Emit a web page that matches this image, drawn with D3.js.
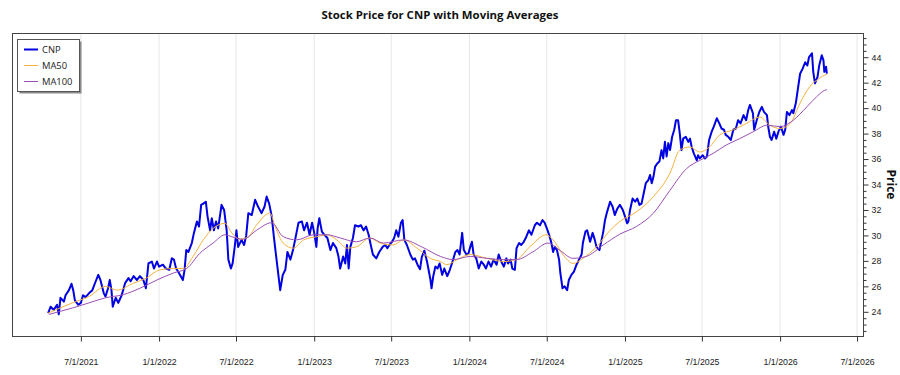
<!DOCTYPE html>
<html><head><meta charset="utf-8">
<script src="https://cdn.jsdelivr.net/npm/d3@7"></script>
<style>
html,body{margin:0;padding:0;background:#fff;}
svg{display:block;font-family:"Open Sans","Noto Sans",sans-serif;}
</style></head>
<body><svg id="c" width="900" height="375"></svg>
<script>
const priceDates = ["2021-04-15","2021-04-21","2021-04-28","2021-05-06","2021-05-10","2021-05-14","2021-05-22","2021-05-26","2021-06-03","2021-06-09","2021-06-13","2021-06-17","2021-06-25","2021-07-01","2021-07-06","2021-07-12","2021-07-20","2021-07-28","2021-08-05","2021-08-11","2021-08-16","2021-08-24","2021-08-28","2021-09-03","2021-09-07","2021-09-11","2021-09-14","2021-09-21","2021-09-27","2021-10-05","2021-10-13","2021-10-21","2021-10-26","2021-11-02","2021-11-10","2021-11-17","2021-11-25","2021-12-01","2021-12-07","2021-12-15","2021-12-20","2021-12-27","2022-01-01","2022-01-10","2022-01-17","2022-01-25","2022-01-31","2022-02-05","2022-02-10","2022-02-15","2022-02-21","2022-02-26","2022-03-02","2022-03-06","2022-03-11","2022-03-19","2022-03-24","2022-03-31","2022-04-05","2022-04-10","2022-04-15","2022-04-21","2022-04-25","2022-05-01","2022-05-05","2022-05-10","2022-05-15","2022-05-20","2022-05-28","2022-06-03","2022-06-09","2022-06-13","2022-06-19","2022-06-23","2022-06-29","2022-07-02","2022-07-06","2022-07-14","2022-07-20","2022-07-25","2022-07-30","2022-08-07","2022-08-15","2022-08-22","2022-08-30","2022-09-06","2022-09-11","2022-09-17","2022-09-23","2022-09-28","2022-10-04","2022-10-09","2022-10-13","2022-10-19","2022-10-25","2022-10-30","2022-11-06","2022-11-12","2022-11-17","2022-11-25","2022-12-03","2022-12-08","2022-12-15","2022-12-21","2022-12-27","2023-01-01","2023-01-06","2023-01-09","2023-01-13","2023-01-19","2023-01-25","2023-02-01","2023-02-08","2023-02-14","2023-02-22","2023-02-27","2023-03-03","2023-03-10","2023-03-15","2023-03-19","2023-03-23","2023-03-27","2023-04-02","2023-04-07","2023-04-15","2023-04-21","2023-04-27","2023-05-03","2023-05-09","2023-05-14","2023-05-19","2023-05-27","2023-06-03","2023-06-11","2023-06-17","2023-06-22","2023-06-27","2023-07-03","2023-07-08","2023-07-13","2023-07-18","2023-07-24","2023-07-28","2023-08-01","2023-08-07","2023-08-15","2023-08-21","2023-08-26","2023-09-01","2023-09-07","2023-09-11","2023-09-17","2023-09-23","2023-09-27","2023-10-01","2023-10-04","2023-10-08","2023-10-13","2023-10-18","2023-10-23","2023-10-29","2023-11-03","2023-11-10","2023-11-16","2023-11-21","2023-11-29","2023-12-04","2023-12-09","2023-12-15","2023-12-19","2023-12-25","2023-12-30","2024-01-03","2024-01-07","2024-01-11","2024-01-17","2024-01-23","2024-01-29","2024-02-04","2024-02-09","2024-02-15","2024-02-21","2024-02-27","2024-03-05","2024-03-10","2024-03-16","2024-03-22","2024-03-28","2024-04-01","2024-04-07","2024-04-11","2024-04-17","2024-04-21","2024-04-27","2024-05-02","2024-05-08","2024-05-14","2024-05-20","2024-05-26","2024-06-03","2024-06-08","2024-06-15","2024-06-21","2024-06-26","2024-07-03","2024-07-08","2024-07-12","2024-07-16","2024-07-20","2024-07-25","2024-07-30","2024-08-02","2024-08-07","2024-08-12","2024-08-18","2024-08-22","2024-08-28","2024-09-03","2024-09-09","2024-09-15","2024-09-21","2024-09-24","2024-09-30","2024-10-04","2024-10-11","2024-10-17","2024-10-22","2024-10-26","2024-11-02","2024-11-07","2024-11-11","2024-11-15","2024-11-20","2024-11-27","2024-12-03","2024-12-08","2024-12-14","2024-12-20","2024-12-27","2025-01-01","2025-01-06","2025-01-09","2025-01-13","2025-01-19","2025-01-25","2025-01-30","2025-02-04","2025-02-09","2025-02-15","2025-02-19","2025-02-25","2025-03-01","2025-03-05","2025-03-09","2025-03-13","2025-03-18","2025-03-23","2025-03-28","2025-04-01","2025-04-05","2025-04-09","2025-04-13","2025-04-17","2025-04-22","2025-04-27","2025-05-01","2025-05-06","2025-05-10","2025-05-14","2025-05-18","2025-05-24","2025-05-30","2025-06-03","2025-06-07","2025-06-12","2025-06-19","2025-06-22","2025-06-26","2025-07-03","2025-07-08","2025-07-13","2025-07-18","2025-07-24","2025-07-29","2025-08-05","2025-08-11","2025-08-16","2025-08-22","2025-08-26","2025-09-01","2025-09-07","2025-09-13","2025-09-19","2025-09-24","2025-09-30","2025-10-07","2025-10-13","2025-10-18","2025-10-22","2025-10-29","2025-11-01","2025-11-07","2025-11-13","2025-11-19","2025-11-24","2025-12-01","2025-12-04","2025-12-08","2025-12-12","2025-12-18","2025-12-23","2025-12-28","2026-01-03","2026-01-09","2026-01-13","2026-01-17","2026-01-23","2026-01-29","2026-02-01","2026-02-07","2026-02-12","2026-02-17","2026-02-23","2026-03-01","2026-03-06","2026-03-10","2026-03-17","2026-03-20","2026-03-24","2026-03-30","2026-04-03","2026-04-09","2026-04-13","2026-04-15","2026-04-19","2026-04-21"];
const priceValues = [23.9,24.4,24.15,24.55,23.8,25.1,24.8,25.3,25.7,26.2,25.7,24.9,24.55,24.7,25.3,25.15,25.45,25.7,26.4,26.9,26.5,25.45,25.2,25.85,26.5,25.7,24.4,25.1,24.7,25.3,26.25,26.65,26.4,26.8,26.5,26.8,26.5,25.85,27.8,27.95,27.4,27.95,27.55,27.7,27.4,27.3,28.2,28.1,27.4,27.15,26.8,26.5,27.3,28.85,28.7,29.4,30.2,31.1,30.7,32.4,32.5,32.65,31.5,30.4,31.35,30.4,31.1,30.55,32.4,32.0,30.4,28.1,27.4,27.8,29.4,30.4,29.1,29.65,29.25,30.0,31.75,31.6,32.8,32.25,31.75,32.25,33.05,32.5,31.5,29.9,28.2,26.8,25.7,26.9,27.3,28.7,28.1,28.85,29.65,31.0,31.1,30.4,31.0,30.05,31.0,30.2,29.1,30.55,31.35,30.3,30.05,29.8,28.85,29.4,29.0,28.35,27.4,28.35,27.8,29.25,27.4,29.1,29.8,30.8,30.7,30.8,30.4,30.7,30.05,29.25,28.5,28.2,28.7,29.1,29.25,29.0,29.25,29.5,29.8,30.4,29.9,31.0,31.2,29.65,29.25,28.5,28.1,28.2,27.7,27.35,28.3,28.8,28.0,27.3,26.6,25.85,26.8,27.55,27.4,27.8,26.9,27.4,26.8,27.3,27.8,28.7,28.85,28.5,30.2,28.85,28.5,28.6,29.1,29.5,28.5,28.2,27.4,27.95,27.7,27.4,27.95,27.55,28.1,27.7,28.5,27.95,27.55,28.2,27.8,28.1,27.4,27.3,29.0,29.4,29.25,29.5,29.9,30.4,30.05,30.8,31.0,30.8,31.2,31.0,30.4,29.9,29.4,28.7,29.1,28.85,28.1,27.05,25.85,26.0,25.7,26.5,26.9,27.15,27.7,28.1,28.5,29.4,30.3,30.4,29.5,30.2,29.65,29.1,28.85,29.65,30.3,31.2,31.85,32.65,32.25,31.6,32.1,32.4,32.0,31.5,30.95,31.1,32.0,32.9,32.65,32.9,32.4,32.5,33.45,34.1,34.35,34.75,34.1,34.6,35.4,35.65,35.8,36.7,36.05,37.35,36.2,37.25,36.7,37.75,38.3,39.05,39.05,38.0,36.7,37.6,37.75,37.35,37.6,36.95,36.45,35.9,36.3,36.05,36.3,36.05,36.2,37.5,38.15,38.55,39.2,38.8,38.4,38.3,37.9,37.75,37.5,38.3,38.4,39.05,38.8,39.45,39.05,39.85,40.25,39.6,38.3,39.05,39.7,40.1,39.7,39.45,38.55,37.75,37.5,38.15,37.6,38.15,38.55,37.9,38.3,39.7,39.45,39.85,39.6,40.4,41.55,42.7,43.1,43.6,43.35,44.0,44.3,42.85,41.95,42.45,43.35,44.15,43.75,42.85,43.25,42.7];

const ma50Dates = ["2021-04-15","2021-06-11","2021-07-20","2021-08-28","2021-09-24","2021-11-02","2021-12-02","2022-01-03","2022-02-04","2022-02-27","2022-03-22","2022-04-15","2022-05-08","2022-06-05","2022-06-21","2022-07-10","2022-07-30","2022-08-18","2022-09-19","2022-10-01","2022-10-20","2022-11-13","2022-12-07","2023-01-07","2023-01-31","2023-02-23","2023-03-19","2023-04-10","2023-05-12","2023-06-05","2023-07-06","2023-07-30","2023-08-31","2023-10-01","2023-10-25","2023-11-09","2023-12-03","2024-01-03","2024-02-11","2024-03-22","2024-04-21","2024-05-22","2024-06-30","2024-07-16","2024-08-08","2024-09-01","2024-09-24","2024-10-26","2024-11-27","2024-12-20","2025-01-28","2025-03-09","2025-04-17","2025-05-10","2025-06-03","2025-06-26","2025-07-19","2025-08-12","2025-09-13","2025-10-14","2025-11-14","2025-12-08","2026-01-01","2026-01-25","2026-02-17","2026-03-12","2026-04-04","2026-04-16","2026-04-21"];
const ma50Values = [23.9,24.7,25.2,26.0,25.7,26.25,26.65,27.3,27.4,27.4,28.35,29.65,30.55,30.95,30.2,29.7,29.9,30.8,31.75,30.7,29.4,29.0,29.65,29.9,30.05,29.65,29.0,29.1,29.8,29.4,29.25,29.65,29.0,28.2,27.95,27.7,28.1,28.5,28.2,27.95,28.1,29.1,30.05,29.65,28.5,27.8,28.2,29.1,30.4,31.1,31.85,33.05,34.9,36.7,36.95,36.55,36.95,37.9,38.3,38.8,39.3,38.65,38.4,38.8,40.4,41.7,42.35,42.6,42.65];

const ma100Dates = ["2021-04-17","2021-06-11","2021-07-20","2021-08-28","2021-10-09","2021-11-17","2021-12-27","2022-02-04","2022-03-07","2022-04-07","2022-05-08","2022-06-05","2022-06-21","2022-07-18","2022-08-18","2022-09-23","2022-10-20","2022-11-21","2022-12-30","2023-01-31","2023-03-03","2023-04-10","2023-05-12","2023-06-13","2023-07-30","2023-09-11","2023-10-25","2023-11-24","2024-01-03","2024-02-11","2024-03-22","2024-04-21","2024-05-29","2024-07-04","2024-07-31","2024-09-01","2024-10-02","2024-11-11","2024-12-20","2025-01-28","2025-03-09","2025-04-17","2025-05-26","2025-06-26","2025-07-28","2025-08-27","2025-09-28","2025-10-30","2025-12-01","2026-01-01","2026-02-01","2026-03-05","2026-03-28","2026-04-16","2026-04-21"];
const ma100Values = [23.8,24.3,24.7,25.1,25.35,25.85,26.5,27.05,27.4,28.6,29.4,30.05,29.9,29.7,30.4,31.0,29.9,29.65,30.05,30.05,29.8,29.5,29.8,29.4,29.65,29.1,28.35,28.1,28.35,28.2,28.1,28.1,28.7,29.4,28.85,28.2,28.35,29.25,30.1,30.7,31.75,33.55,35.25,35.9,36.45,37.1,37.6,38.15,38.65,38.55,39.05,40.1,40.9,41.4,41.45];

const xTickDates = ["2021-07-01","2022-01-01","2022-07-01","2023-01-01","2023-07-01","2024-01-01","2024-07-01","2025-01-01","2025-07-01","2026-01-01","2026-07-01"];
const yMajorTicks = [24,26,28,30,32,34,36,38,40,42,44];
const seriesNames = ["CNP","MA50","MA100"];
const titleText = "Stock Price for CNP with Moving Averages";
const yLabel = "Price";

const parse = d3.utcParse("%Y-%m-%d");
const colors = {CNP:"#0000e0", MA50:"#f5b240", MA100:"#9b4fb5"};
const widths = {CNP:2, MA50:1, MA100:1};

const L = 12, R = 863, T = 33, B = 336;
const svg = d3.select("#c");

const x = d3.scaleUtc().domain([parse("2021-01-20"), parse("2026-07-15")]).range([L, R]);
const y = d3.scaleLinear().domain([22.1, 45.9]).range([B, T]);

// vertical gridlines
svg.append("g").selectAll("line").data(xTickDates.map(parse)).join("line")
  .attr("x1", d => x(d)).attr("x2", d => x(d)).attr("y1", T).attr("y2", B)
  .attr("stroke", "#e6e6e6").attr("stroke-width", 1);

// clip
svg.append("clipPath").attr("id","clip").append("rect")
  .attr("x", L).attr("y", T).attr("width", R-L).attr("height", B-T);

const line = d3.line().x(d => x(d[0])).y(d => y(d[1]));
const smooth = d3.line().x(d => x(d[0])).y(d => y(d[1])).curve(d3.curveMonotoneX);

const g = svg.append("g").attr("clip-path","url(#clip)");
const ma100 = ma100Dates.map((d,i) => [parse(d), ma100Values[i]]);
const ma50 = ma50Dates.map((d,i) => [parse(d), ma50Values[i]]);
const price = priceDates.map((d,i) => [parse(d), priceValues[i]]);
g.append("path").datum(price).attr("d", line).attr("fill","none")
  .attr("stroke", colors.CNP).attr("stroke-width", widths.CNP).attr("stroke-linejoin","round");
g.append("path").datum(ma50).attr("d", smooth).attr("fill","none")
  .attr("stroke", colors.MA50).attr("stroke-width", widths.MA50);
g.append("path").datum(ma100).attr("d", smooth).attr("fill","none")
  .attr("stroke", colors.MA100).attr("stroke-width", widths.MA100);

// frame
svg.append("rect").attr("x", L+0.5).attr("y", T+0.5).attr("width", R-L).attr("height", B-T)
  .attr("fill","none").attr("stroke","#444").attr("stroke-width",1);

// x axis
const fmt = d => (d.getUTCMonth()+1) + "/" + d.getUTCDate() + "/" + d.getUTCFullYear();
const xAxis = d3.axisBottom(x).tickValues(xTickDates.map(parse)).tickFormat(fmt).tickSize(5).tickPadding(17);
const xg = svg.append("g").attr("transform", `translate(0,${B+0.5})`).call(xAxis);
xg.select(".domain").remove();
xg.selectAll("line").attr("stroke","#333");
xg.selectAll("text").attr("font-size","8.8px").attr("fill","#222");

// y axis right
const minor = d3.range(22.5, 45.6, 0.5).filter(v => Math.abs(v/2 - Math.round(v/2)) > 1e-6);
const ymg = svg.append("g").attr("transform", `translate(${R+0.5},0)`)
  .call(d3.axisRight(y).tickValues(minor).tickSize(3).tickFormat(""));
ymg.select(".domain").remove();
ymg.selectAll("line").attr("stroke","#333");
const yg = svg.append("g").attr("transform", `translate(${R+0.5},0)`)
  .call(d3.axisRight(y).tickValues(yMajorTicks).tickSize(5).tickPadding(3));
yg.select(".domain").remove();
yg.selectAll("line").attr("stroke","#333");
yg.selectAll("text").attr("font-size","8.8px").attr("fill","#222");

// y label
svg.append("text").attr("transform", `translate(887,${(T+B)/2}) rotate(90)`)
  .attr("text-anchor","middle").attr("font-size","12px").attr("font-weight","bold").attr("fill","#111").text(yLabel);

// title
svg.append("text").attr("x", 440).attr("y", 19).attr("text-anchor","middle")
  .attr("font-size","11.4px").attr("font-weight","bold").attr("fill","#111").text(titleText);

// legend
const lg = svg.append("g");
lg.append("rect").attr("x", 19.5).attr("y", 41.5).attr("width", 62).attr("height", 52).attr("fill","#8a8a8a");
lg.append("rect").attr("x", 17.5).attr("y", 39.5).attr("width", 62).attr("height", 52).attr("fill","#fff").attr("stroke","#555");
seriesNames.forEach((s, i) => {
  const yy = 49.5 + i*16;
  lg.append("line").attr("x1", 24).attr("x2", 38).attr("y1", yy).attr("y2", yy)
    .attr("stroke", colors[s]).attr("stroke-width", widths[s]);
  lg.append("text").attr("x", 42).attr("y", yy + 3).attr("font-size","9.4px").attr("fill","#222").text(s);
});
</script></body></html>
